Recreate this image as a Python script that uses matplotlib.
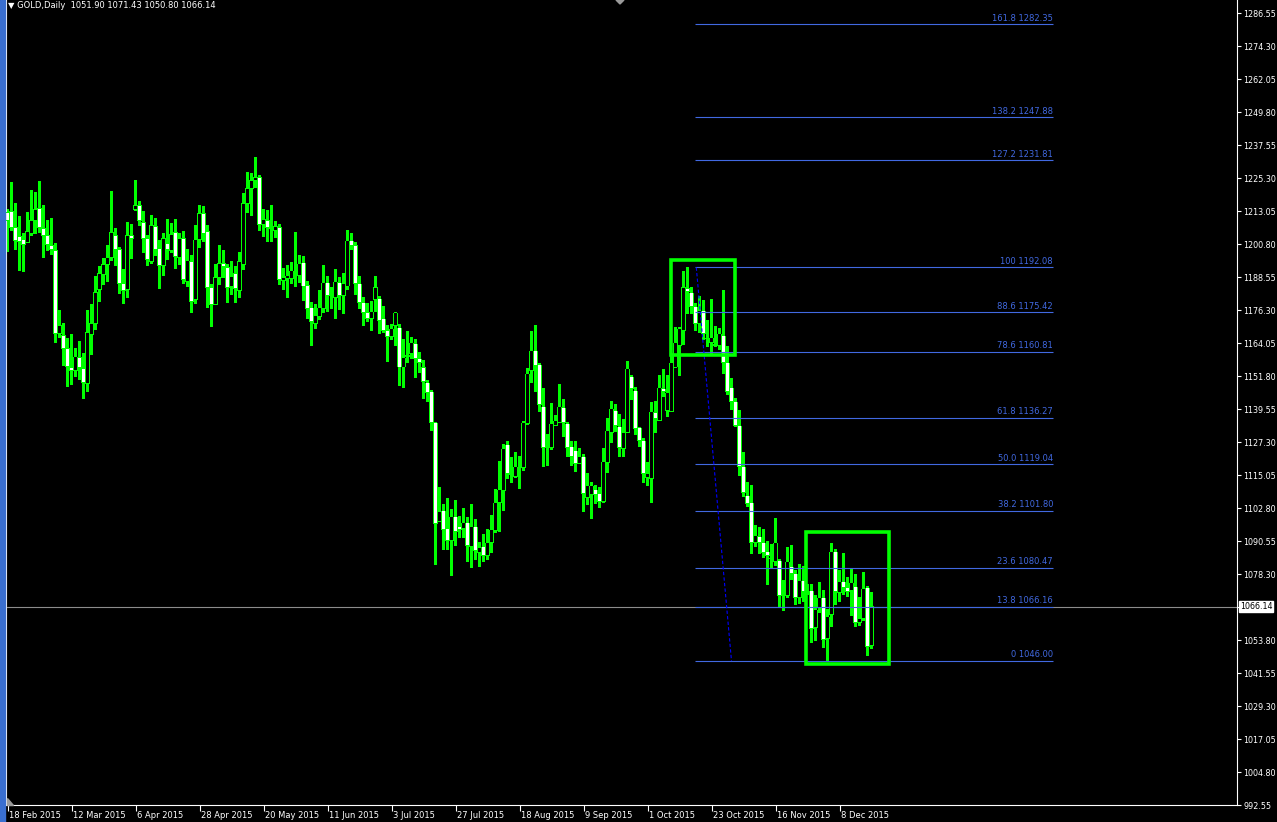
import matplotlib
matplotlib.use("Agg")
import matplotlib.pyplot as plt
from matplotlib.patches import Rectangle, Polygon
import numpy as np

# ---------------- data (GOLD daily) ----------------
opens = [1212.56, 1212.93, 1206.99, 1203.65, 1202.54, 1201.30, 1204.77, 1209.47, 1214.05, 1206.62,
         1204.03, 1200.31, 1198.46, 1167.53, 1166.91, 1162.08, 1155.03, 1153.91, 1158.74, 1154.66,
         1149.09, 1167.28, 1171.24, 1184.01, 1189.55, 1193.14, 1195.74, 1204.03, 1198.83, 1186.21,
         1183.73, 1204.03, 1213.68, 1215.16, 1208.85, 1202.91, 1194.25, 1207.37, 1198.95, 1192.89,
         1201.06, 1198.46, 1205.14, 1195.86, 1202.91, 1186.83, 1194.37, 1180.15, 1202.54, 1212.19,
         1205.51, 1184.72, 1178.41, 1188.43, 1193.63, 1192.15, 1184.97, 1189.92, 1183.61, 1193.14,
         1215.90, 1221.47, 1224.32, 1225.55, 1208.11, 1209.47, 1206.75, 1205.76, 1206.99, 1187.32,
         1187.94, 1188.06, 1189.68, 1188.93, 1193.76, 1185.58, 1177.05, 1171.12, 1173.71, 1176.68,
         1186.33, 1181.87, 1180.77, 1186.33, 1181.50, 1185.21, 1201.92, 1200.43, 1185.96, 1178.91,
         1175.20, 1172.97, 1180.02, 1180.40, 1172.97, 1168.51, 1166.28, 1170.37, 1169.63, 1155.14,
         1158.86, 1159.97, 1163.69, 1158.12, 1155.14, 1149.21, 1145.87, 1134.37, 1097.62, 1101.70,
         1095.02, 1090.56, 1099.47, 1095.76, 1095.02, 1097.24, 1088.33, 1095.76, 1086.11, 1088.33,
         1084.99, 1089.82, 1094.27, 1104.67, 1109.12, 1126.19, 1115.43, 1114.32, 1118.03, 1117.66,
         1134.00, 1153.66, 1161.09, 1155.89, 1140.30, 1125.08, 1125.08, 1133.25, 1134.37, 1139.93,
         1134.00, 1125.45, 1123.97, 1119.15, 1121.74, 1106.52, 1107.63, 1109.49, 1108.37, 1105.04,
         1119.52, 1130.65, 1138.82, 1132.88, 1124.71, 1130.65, 1151.44, 1146.24, 1132.51, 1127.68,
         1113.94, 1113.57, 1138.07, 1135.11, 1146.98, 1138.82, 1138.45, 1155.14, 1162.94, 1168.51,
         1184.47, 1182.62, 1177.42, 1171.12, 1175.94, 1165.91, 1164.06, 1163.69, 1162.94, 1166.66,
         1156.64, 1147.35, 1142.16, 1133.25, 1118.03, 1107.26, 1104.67, 1089.82, 1092.04, 1089.82,
         1086.48, 1084.25, 1082.76, 1083.14, 1070.89, 1070.14, 1080.91, 1078.31, 1069.40, 1075.71,
         1072.00, 1072.00, 1058.26, 1065.69, 1069.40, 1054.18, 1063.09, 1086.48, 1071.26, 1075.34,
         1073.11, 1072.00, 1073.48, 1060.13, 1061.61, 1073.11, 1051.90]

highs = [1213.68, 1223.45, 1215.66, 1210.83, 1204.77, 1212.32, 1220.48, 1219.74, 1223.82, 1215.28,
         1209.35, 1210.09, 1201.06, 1175.94, 1171.11, 1165.55, 1167.03, 1162.08, 1164.43, 1160.22,
         1175.94, 1178.17, 1188.68, 1192.39, 1195.49, 1200.07, 1220.11, 1206.62, 1199.57, 1191.16,
         1208.97, 1207.86, 1224.56, 1216.40, 1212.69, 1203.78, 1211.20, 1210.09, 1201.92, 1204.77,
         1209.72, 1208.23, 1209.72, 1204.77, 1205.26, 1198.58, 1196.35, 1207.49, 1215.28, 1214.67,
         1207.49, 1185.59, 1193.26, 1200.07, 1198.21, 1193.26, 1194.13, 1192.39, 1197.59, 1219.37,
         1227.53, 1226.79, 1232.73, 1226.05, 1213.68, 1213.06, 1215.28, 1209.10, 1207.86, 1191.53,
         1192.64, 1193.76, 1204.89, 1196.72, 1195.98, 1186.70, 1178.91, 1178.16, 1183.36, 1192.64,
         1188.56, 1184.84, 1191.16, 1188.19, 1189.68, 1206.00, 1204.52, 1201.18, 1188.56, 1180.77,
         1178.54, 1179.28, 1188.56, 1181.14, 1177.42, 1170.37, 1170.74, 1175.20, 1170.74, 1165.17,
         1168.14, 1165.91, 1165.17, 1160.35, 1157.38, 1149.95, 1146.24, 1134.37, 1110.23, 1103.92,
         1106.15, 1102.07, 1105.41, 1099.47, 1102.44, 1099.10, 1103.92, 1098.36, 1089.82, 1092.78,
         1094.64, 1099.84, 1109.49, 1119.89, 1126.19, 1127.31, 1121.37, 1123.23, 1121.74, 1134.74,
         1154.41, 1168.14, 1170.37, 1156.26, 1146.98, 1129.91, 1141.42, 1136.96, 1148.47, 1142.90,
         1134.37, 1127.31, 1127.31, 1124.71, 1122.48, 1115.43, 1112.09, 1111.34, 1110.23, 1124.71,
         1135.85, 1142.16, 1141.04, 1137.33, 1135.48, 1157.01, 1151.81, 1147.35, 1132.51, 1128.42,
         1119.52, 1141.79, 1142.16, 1151.81, 1154.04, 1151.81, 1158.86, 1169.63, 1169.63, 1190.42,
         1192.08, 1184.84, 1178.54, 1181.14, 1179.65, 1172.23, 1180.02, 1170.00, 1169.26, 1183.36,
         1162.57, 1150.70, 1143.27, 1138.82, 1123.23, 1112.09, 1110.97, 1096.13, 1095.39, 1094.64,
         1090.19, 1089.07, 1098.73, 1083.51, 1075.71, 1087.96, 1088.70, 1079.43, 1081.65, 1080.91,
         1074.23, 1074.23, 1070.14, 1074.97, 1072.00, 1064.95, 1089.44, 1087.22, 1079.43, 1085.73,
         1076.83, 1080.17, 1077.94, 1069.40, 1078.68, 1073.48, 1071.43]

lows = [1197.96, 1205.76, 1198.58, 1190.91, 1190.41, 1201.30, 1203.90, 1204.52, 1205.01, 1195.74,
        1198.21, 1196.73, 1164.18, 1166.04, 1155.65, 1147.85, 1148.47, 1151.56, 1150.33, 1143.50,
        1146.00, 1159.61, 1168.89, 1179.40, 1185.59, 1186.83, 1194.50, 1192.64, 1182.25, 1178.54,
        1180.89, 1195.36, 1213.06, 1207.49, 1197.59, 1192.77, 1193.63, 1196.35, 1184.35, 1189.05,
        1194.87, 1197.59, 1191.65, 1193.01, 1186.21, 1184.97, 1175.32, 1178.78, 1199.45, 1201.67,
        1177.30, 1170.12, 1178.17, 1185.59, 1188.31, 1179.03, 1182.12, 1179.03, 1180.89, 1191.40,
        1212.32, 1211.32, 1221.72, 1205.76, 1203.53, 1201.67, 1201.67, 1203.16, 1185.71, 1183.86,
        1180.89, 1186.21, 1184.84, 1186.33, 1179.65, 1172.97, 1162.94, 1169.26, 1172.60, 1175.20,
        1175.57, 1176.68, 1172.97, 1176.31, 1174.83, 1183.73, 1198.58, 1182.24, 1176.68, 1170.37,
        1171.86, 1168.51, 1175.57, 1167.40, 1167.77, 1157.01, 1165.17, 1162.94, 1148.09, 1147.35,
        1156.64, 1158.12, 1151.07, 1152.93, 1143.27, 1142.16, 1131.39, 1081.65, 1097.62, 1087.22,
        1087.22, 1077.57, 1088.70, 1091.67, 1091.67, 1082.76, 1080.54, 1083.51, 1080.91, 1082.76,
        1083.51, 1086.11, 1093.53, 1093.90, 1101.70, 1113.57, 1112.09, 1113.94, 1109.86, 1116.55,
        1133.63, 1149.21, 1145.87, 1138.45, 1118.03, 1118.40, 1124.34, 1133.25, 1134.37, 1129.16,
        1121.74, 1118.40, 1116.18, 1119.15, 1101.33, 1103.92, 1098.73, 1104.29, 1102.81, 1104.67,
        1115.80, 1126.94, 1131.02, 1121.74, 1121.74, 1130.65, 1142.90, 1129.91, 1125.45, 1112.09,
        1110.97, 1104.67, 1130.65, 1135.11, 1144.01, 1136.59, 1138.45, 1155.14, 1151.81, 1163.32,
        1174.83, 1174.83, 1168.51, 1167.77, 1165.17, 1162.57, 1159.60, 1162.57, 1161.46, 1152.55,
        1144.75, 1139.19, 1132.88, 1114.69, 1106.89, 1103.18, 1085.73, 1088.33, 1085.73, 1084.25,
        1074.23, 1080.17, 1081.28, 1065.69, 1064.58, 1069.40, 1076.08, 1066.80, 1067.17, 1067.92,
        1070.52, 1052.69, 1053.44, 1063.83, 1050.84, 1046.00, 1058.63, 1066.80, 1067.92, 1070.52,
        1069.77, 1062.72, 1058.63, 1059.00, 1060.87, 1047.87, 1050.80]

closes = [1209.47, 1206.87, 1202.05, 1201.67, 1200.68, 1205.51, 1209.59, 1213.68, 1206.87, 1203.90,
          1200.44, 1198.70, 1167.53, 1170.62, 1161.96, 1155.15, 1153.79, 1158.86, 1155.03, 1149.34,
          1168.02, 1171.36, 1182.87, 1189.92, 1193.26, 1195.61, 1205.14, 1198.83, 1186.21, 1183.61,
          1204.03, 1202.91, 1215.28, 1209.47, 1202.91, 1195.12, 1207.74, 1198.83, 1192.77, 1202.91,
          1198.83, 1204.40, 1196.23, 1202.91, 1187.45, 1194.50, 1179.40, 1202.29, 1212.19, 1204.77,
          1184.72, 1178.41, 1188.43, 1193.63, 1192.39, 1184.72, 1188.81, 1184.35, 1194.37, 1215.90,
          1221.47, 1224.44, 1225.55, 1208.11, 1209.96, 1206.75, 1206.50, 1207.37, 1187.45, 1188.19,
          1188.93, 1190.79, 1190.05, 1193.39, 1185.21, 1176.68, 1171.86, 1174.08, 1177.05, 1186.33,
          1181.87, 1181.50, 1186.70, 1181.87, 1185.96, 1201.92, 1200.06, 1185.96, 1178.91, 1175.20,
          1172.97, 1175.57, 1184.84, 1172.23, 1168.51, 1166.28, 1169.26, 1175.20, 1155.14, 1158.49,
          1159.60, 1164.06, 1158.12, 1156.64, 1149.58, 1145.50, 1134.37, 1096.87, 1101.33, 1094.64,
          1090.56, 1099.47, 1093.90, 1094.64, 1097.24, 1088.70, 1095.76, 1086.85, 1087.96, 1084.99,
          1089.82, 1094.64, 1104.67, 1109.49, 1124.71, 1115.43, 1115.06, 1118.03, 1117.66, 1134.37,
          1152.55, 1161.09, 1155.52, 1141.04, 1125.08, 1125.82, 1134.00, 1135.11, 1140.30, 1134.37,
          1125.08, 1121.74, 1119.15, 1121.74, 1108.00, 1110.97, 1110.97, 1107.63, 1105.04, 1119.89,
          1131.39, 1139.56, 1133.25, 1125.08, 1130.65, 1154.41, 1146.98, 1132.13, 1127.68, 1115.43,
          1115.43, 1138.45, 1135.85, 1147.35, 1145.87, 1145.50, 1156.64, 1164.06, 1169.26, 1184.84,
          1182.99, 1177.42, 1171.12, 1175.94, 1167.40, 1165.54, 1165.91, 1162.94, 1167.40, 1156.64,
          1145.87, 1142.16, 1133.25, 1118.03, 1108.37, 1104.29, 1089.82, 1092.41, 1089.82, 1086.11,
          1084.99, 1083.88, 1089.82, 1070.14, 1071.63, 1082.76, 1078.31, 1069.40, 1075.71, 1071.63,
          1071.26, 1057.89, 1064.95, 1069.40, 1053.81, 1062.35, 1086.48, 1071.63, 1075.34, 1073.11,
          1071.63, 1074.97, 1060.13, 1061.61, 1072.74, 1051.22, 1066.14]

date_labels = ["18 Feb 2015", "12 Mar 2015", "6 Apr 2015", "28 Apr 2015", "20 May 2015",
               "11 Jun 2015", "3 Jul 2015", "27 Jul 2015", "18 Aug 2015", "9 Sep 2015",
               "1 Oct 2015", "23 Oct 2015", "16 Nov 2015", "8 Dec 2015"]
bars_per_label = 16

fib_levels = ["161.8", "138.2", "127.2", "100", "88.6", "78.6", "61.8", "50.0",
              "38.2", "23.6", "13.8", "0"]
fib_prices = [1282.35, 1247.88, 1231.81, 1192.08, 1175.42, 1160.81, 1136.27, 1119.04,
              1101.80, 1080.47, 1066.16, 1046.00]
fib_high, fib_low = 1192.08, 1046.00

last_price = 1066.14
title = "GOLD,Daily  1051.90 1071.43 1050.80 1066.14"
ytick_start, ytick_step, ytick_count = 992.55, 12.25, 25

# ---------------- figure ----------------
W, H = 1277, 822
LIME = "#00ff00"
FIB = "#4169e1"
fig = plt.figure(figsize=(W / 100, H / 100), dpi=100, facecolor="black")
ax = fig.add_axes([6 / W, 17 / H, (1237 - 6) / W, 805 / H])
ax.set_facecolor("black")

n = len(opens)
x = np.arange(n)
o = np.array(opens); c = np.array(closes)
hi = np.array(highs); lo = np.array(lows)

YMIN, YMAX = 992.55, 1291.38
ax.set_xlim(-0.375, 307.375)
ax.set_ylim(YMIN, YMAX)
px = (YMAX - YMIN) / 805.0          # price per pixel

# wicks
ax.vlines(x, lo, hi, color=LIME, lw=0.75, zorder=2, antialiased=False, snap=False)
# bodies: lime outer block, then 1-px inner fill (white = bearish, black = bullish)
bottoms = np.minimum(o, c)
tops = np.maximum(o, c)
heights = np.maximum(tops - bottoms, px * 1.0)
ax.bar(x, heights, bottom=bottoms, width=0.78, color=LIME, linewidth=0,
       zorder=3, antialiased=False, snap=False)
inner = (tops - bottoms) > 2.2 * px
faces = np.where(c < o, "white", "black")
ax.vlines(x[inner], bottoms[inner] + px, tops[inner] - px, colors=faces[inner],
          lw=0.75, zorder=4, antialiased=False, snap=False)

# fibonacci retracement
fx0, fx1 = 171.9, 261.4
ax.hlines(fib_prices, fx0, fx1, color=FIB, lw=0.8, zorder=4)
for lvl, p in zip(fib_levels, fib_prices):
    ax.annotate(f"{lvl} {p:.2f}", xy=(fx1, p), xytext=(0, 1.2), textcoords="offset points",
                ha="right", va="bottom", color=FIB, fontsize=6, zorder=5)
ax.plot([172.2, 181.0], [fib_high, fib_low], color="#0000ff", lw=0.8,
        dashes=(3, 2), zorder=4)

# current price line
ax.axhline(last_price, color="#8c8c8c", lw=0.8, zorder=1)
ax.annotate(f"{last_price:.2f}", xy=(1.0, last_price), xycoords=("axes fraction", "data"),
            xytext=(2, 0), textcoords="offset points", ha="left", va="center",
            fontsize=5.8, color="black", annotation_clip=False, zorder=10,
            bbox=dict(boxstyle="square,pad=0.15", fc="white", ec="white"))

# green boxes
ax.add_patch(Rectangle((165.9, 1159.6), 16.0, 35.27, fill=False, edgecolor=LIME, lw=2.6, zorder=6))
ax.add_patch(Rectangle((199.7, 1044.9), 20.7, 49.0, fill=False, edgecolor=LIME, lw=2.6, zorder=6))

# axes styling
ax.spines["top"].set_visible(False)
for s in ["left", "right", "bottom"]:
    ax.spines[s].set_color("white")
    ax.spines[s].set_linewidth(0.8)

yt = [ytick_start + ytick_step * k for k in range(ytick_count)]
ax.yaxis.tick_right()
ax.set_yticks(yt)
ax.set_yticklabels([("" if abs(v - last_price) < 1 else f"{v:.2f}") for v in yt])
ax.tick_params(axis="y", colors="white", labelsize=5.8, length=3, width=0.8, pad=1.5)

xt = [k * bars_per_label for k in range(len(date_labels))]
ax.set_xticks(xt)
ax.set_xticklabels([])
ax.tick_params(axis="x", colors="white", length=4, width=0.8, direction="out")
for pos, lab in zip(xt, date_labels):
    ax.annotate(lab, xy=(pos, 0), xycoords=("data", "axes fraction"), xytext=(1.2, -4.0),
                textcoords="offset points", ha="left", va="top", color="white", fontsize=6,
                annotation_clip=False)

# title
fig.text(8 / W, 1 - 5 / H, "\u25bc " + title, color="white", fontsize=6, ha="left", va="center")

# left window edge
fig.patches.append(Rectangle((0, 0), 5 / W, 1, transform=fig.transFigure, color="#3a6fd0", zorder=0))

# small grey terminal markers (chart-shift at top, scale-fix at bottom-left)
fig.patches.append(Polygon([(616 / W, 1.0), (624 / W, 1.0), (620 / W, 1 - 4 / H)],
                           closed=True, transform=fig.transFigure, color="#9a9a9a"))
fig.patches.append(Polygon([(7 / W, 1 - 798 / H), (7 / W, 1 - 805 / H), (13 / W, 1 - 805 / H)],
                           closed=True, transform=fig.transFigure, color="#9a9a9a"))

fig.savefig("out.png", dpi=100, facecolor="black")
